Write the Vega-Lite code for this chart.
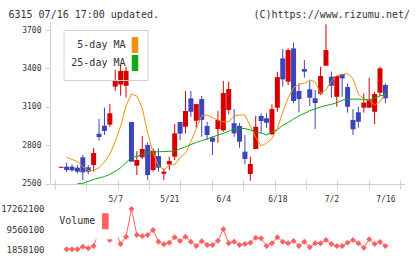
{
  "$schema": "https://vega.github.io/schema/vega-lite/v6.json",
  "width": 355,
  "height": 232,
  "autosize": {"type": "none"},
  "padding": {"left": 50, "top": 21, "right": 15, "bottom": 6},
  "background": "white",
  "config": {
    "view": {"stroke": null},
    "font": "DejaVu Sans Mono",
    "axis": {"domainColor": "#d0d0d0", "tickColor": "#d0d0d0", "labelColor": "#333333", "labelFont": "DejaVu Sans Mono", "grid": false}
  },
  "data": {"values": [
    {"i": 0, "date": "4/18", "o": 2624, "h": 2632, "l": 2624, "c": 2632, "m5": null, "m25": null, "v": null},
    {"i": 1, "date": "4/21", "o": 2633, "h": 2664, "l": 2591, "c": 2607, "m5": 2706, "m25": null, "v": 1858100},
    {"i": 2, "date": "4/22", "o": 2633, "h": 2651, "l": 2594, "c": 2604, "m5": 2690, "m25": null, "v": 1900000},
    {"i": 3, "date": "4/23", "o": 2625, "h": 2646, "l": 2581, "c": 2594, "m5": 2672, "m25": 2500, "v": 1870000},
    {"i": 4, "date": "4/24", "o": 2706, "h": 2724, "l": 2529, "c": 2589, "m5": 2633, "m25": 2503, "v": 2850000},
    {"i": 5, "date": "4/25", "o": 2628, "h": 2646, "l": 2576, "c": 2594, "m5": 2604, "m25": 2518, "v": 2240000},
    {"i": 6, "date": "4/28", "o": 2646, "h": 2779, "l": 2594, "c": 2740, "m5": 2604, "m25": 2533, "v": 3120000},
    {"i": 7, "date": "4/30", "o": 2891, "h": 3005, "l": 2836, "c": 2865, "m5": 2625, "m25": 2545, "v": 8900000},
    {"i": 8, "date": "5/1", "o": 2953, "h": 3094, "l": 2880, "c": 2912, "m5": 2670, "m25": 2555, "v": 6900000},
    {"i": 9, "date": "5/2", "o": 2961, "h": 3122, "l": 2943, "c": 3050, "m5": 2730, "m25": 2573, "v": 5410000},
    {"i": 10, "date": "5/7", "o": 3258, "h": 3390, "l": 3226, "c": 3310, "m5": 2830, "m25": 2597, "v": 9200000},
    {"i": 11, "date": "5/8", "o": 3275, "h": 3430, "l": 3188, "c": 3381, "m5": 2950, "m25": 2625, "v": 3880000},
    {"i": 12, "date": "5/9", "o": 3265, "h": 3414, "l": 3174, "c": 3381, "m5": 3110, "m25": 2665, "v": 6680000},
    {"i": 13, "date": "5/12", "o": 2982, "h": 2982, "l": 2672, "c": 2672, "m5": 3200, "m25": 2705, "v": 17262100},
    {"i": 14, "date": "5/13", "o": 2641, "h": 2755, "l": 2568, "c": 2685, "m5": 3185, "m25": 2714, "v": 7320000},
    {"i": 15, "date": "5/14", "o": 2706, "h": 2872, "l": 2693, "c": 2771, "m5": 3089, "m25": 2727, "v": 6940000},
    {"i": 16, "date": "5/15", "o": 2802, "h": 2823, "l": 2529, "c": 2568, "m5": 2900, "m25": 2741, "v": 7320000},
    {"i": 17, "date": "5/16", "o": 2607, "h": 2776, "l": 2594, "c": 2758, "m5": 2740, "m25": 2747, "v": 9230000},
    {"i": 18, "date": "5/19", "o": 2716, "h": 2776, "l": 2594, "c": 2625, "m5": 2640, "m25": 2750, "v": 4770000},
    {"i": 19, "date": "5/20", "o": 2578, "h": 2620, "l": 2529, "c": 2594, "m5": 2607, "m25": 2751, "v": 3770000},
    {"i": 20, "date": "5/21", "o": 2651, "h": 2711, "l": 2607, "c": 2677, "m5": 2645, "m25": 2753, "v": 4400000},
    {"i": 21, "date": "5/22", "o": 2711, "h": 2966, "l": 2685, "c": 2893, "m5": 2648, "m25": 2757, "v": 6450000},
    {"i": 22, "date": "5/23", "o": 2982, "h": 2982, "l": 2841, "c": 2891, "m5": 2705, "m25": 2773, "v": 5030000},
    {"i": 23, "date": "5/26", "o": 2945, "h": 3224, "l": 2893, "c": 3068, "m5": 2737, "m25": 2788, "v": 6680000},
    {"i": 24, "date": "5/27", "o": 3167, "h": 3224, "l": 3023, "c": 3062, "m5": 2830, "m25": 2806, "v": 4770000},
    {"i": 25, "date": "5/28", "o": 2992, "h": 3122, "l": 2937, "c": 3122, "m5": 2930, "m25": 2822, "v": 3120000},
    {"i": 26, "date": "5/29", "o": 3161, "h": 3185, "l": 2867, "c": 2998, "m5": 3031, "m25": 2836, "v": 4900000},
    {"i": 27, "date": "5/30", "o": 2951, "h": 2984, "l": 2841, "c": 2880, "m5": 3037, "m25": 2850, "v": 3500000},
    {"i": 28, "date": "6/2", "o": 2859, "h": 2872, "l": 2724, "c": 2828, "m5": 3015, "m25": 2865, "v": 3500000},
    {"i": 29, "date": "6/3", "o": 2927, "h": 3068, "l": 2820, "c": 2998, "m5": 2998, "m25": 2879, "v": 5150000},
    {"i": 30, "date": "6/4", "o": 2917, "h": 3302, "l": 2906, "c": 3208, "m5": 2984, "m25": 2893, "v": 9500000},
    {"i": 31, "date": "6/5", "o": 3076, "h": 3297, "l": 3042, "c": 3240, "m5": 2984, "m25": 2909, "v": 4150000},
    {"i": 32, "date": "6/6", "o": 2973, "h": 3083, "l": 2867, "c": 2893, "m5": 3030, "m25": 2932, "v": 4770000},
    {"i": 33, "date": "6/9", "o": 2951, "h": 2972, "l": 2781, "c": 2828, "m5": 3037, "m25": 2933, "v": 3500000},
    {"i": 34, "date": "6/10", "o": 2750, "h": 2880, "l": 2651, "c": 2693, "m5": 3037, "m25": 2930, "v": 3880000},
    {"i": 35, "date": "6/11", "o": 2576, "h": 2711, "l": 2523, "c": 2654, "m5": 2950, "m25": 2920, "v": 4380000},
    {"i": 36, "date": "6/12", "o": 2771, "h": 3031, "l": 2771, "c": 2945, "m5": 2860, "m25": 2904, "v": 6300000},
    {"i": 37, "date": "6/13", "o": 3029, "h": 3050, "l": 2894, "c": 2990, "m5": 2797, "m25": 2895, "v": 6060000},
    {"i": 38, "date": "6/16", "o": 3011, "h": 3050, "l": 2937, "c": 2976, "m5": 2815, "m25": 2881, "v": 3120000},
    {"i": 39, "date": "6/17", "o": 2886, "h": 3120, "l": 2880, "c": 3083, "m5": 2854, "m25": 2905, "v": 4150000},
    {"i": 40, "date": "6/18", "o": 3094, "h": 3375, "l": 3062, "c": 3333, "m5": 2930, "m25": 2922, "v": 6450000},
    {"i": 41, "date": "6/19", "o": 3479, "h": 3552, "l": 3258, "c": 3315, "m5": 3060, "m25": 2956, "v": 4770000},
    {"i": 42, "date": "6/20", "o": 3297, "h": 3557, "l": 3271, "c": 3544, "m5": 3170, "m25": 2978, "v": 4150000},
    {"i": 43, "date": "6/23", "o": 3557, "h": 3601, "l": 3128, "c": 3146, "m5": 3250, "m25": 3005, "v": 5030000},
    {"i": 44, "date": "6/24", "o": 3224, "h": 3284, "l": 3058, "c": 3161, "m5": 3276, "m25": 3030, "v": 3120000},
    {"i": 45, "date": "6/25", "o": 3396, "h": 3466, "l": 3328, "c": 3375, "m5": 3284, "m25": 3049, "v": 4770000},
    {"i": 46, "date": "6/26", "o": 3237, "h": 3302, "l": 3107, "c": 3172, "m5": 3310, "m25": 3070, "v": 2620000},
    {"i": 47, "date": "6/27", "o": 3167, "h": 3232, "l": 2927, "c": 3130, "m5": 3295, "m25": 3085, "v": 4150000},
    {"i": 48, "date": "6/30", "o": 3203, "h": 3414, "l": 3193, "c": 3341, "m5": 3205, "m25": 3099, "v": 4150000},
    {"i": 49, "date": "7/1", "o": 3422, "h": 3745, "l": 3422, "c": 3544, "m5": 3235, "m25": 3111, "v": 5410000},
    {"i": 50, "date": "7/2", "o": 3336, "h": 3375, "l": 3172, "c": 3265, "m5": 3300, "m25": 3120, "v": 3880000},
    {"i": 51, "date": "7/3", "o": 3179, "h": 3341, "l": 3101, "c": 3341, "m5": 3345, "m25": 3132, "v": 3120000},
    {"i": 52, "date": "7/4", "o": 3357, "h": 3357, "l": 3179, "c": 3323, "m5": 3354, "m25": 3152, "v": 3120000},
    {"i": 53, "date": "7/7", "o": 3255, "h": 3284, "l": 3055, "c": 3101, "m5": 3362, "m25": 3161, "v": 4380000},
    {"i": 54, "date": "7/8", "o": 2998, "h": 3083, "l": 2880, "c": 2925, "m5": 3320, "m25": 3161, "v": 5410000},
    {"i": 55, "date": "7/9", "o": 3058, "h": 3101, "l": 2937, "c": 2984, "m5": 3200, "m25": 3161, "v": 4150000},
    {"i": 56, "date": "7/10", "o": 3094, "h": 3206, "l": 3055, "c": 3133, "m5": 3163, "m25": 3158, "v": 2470000},
    {"i": 57, "date": "7/11", "o": 3094, "h": 3328, "l": 3094, "c": 3154, "m5": 3150, "m25": 3155, "v": 5680000},
    {"i": 58, "date": "7/14", "o": 3062, "h": 3219, "l": 2966, "c": 3200, "m5": 3115, "m25": 3170, "v": 3880000},
    {"i": 59, "date": "7/15", "o": 3211, "h": 3414, "l": 3185, "c": 3401, "m5": 3140, "m25": 3186, "v": 4650000},
    {"i": 60, "date": "7/16", "o": 3271, "h": 3284, "l": 3128, "c": 3167, "m5": 3206, "m25": 3195, "v": 3120000}
  ]},
  "layer": [
    {
      "layer": [
        {
          "mark": {"type": "rule", "strokeWidth": 1},
          "encoding": {
            "x": {"field": "i", "type": "quantitative", "scale": {"domain": [-1.15, 62.7], "nice": false, "zero": false},
                  "axis": {"orient": "bottom", "offset": -69, "values": [10, 20, 30, 40, 50, 60],
                           "labelExpr": "['5/7','5/21','6/4','6/18','7/2','7/16'][datum.value/10-1]",
                           "ticks": false, "labelPadding": 11, "labelFontSize": 8, "domain": true, "title": null, "labelFlush": false}},
            "y": {"field": "l", "type": "quantitative", "scale": {"domain": [2500, 3771], "range": [162.7, 0], "nice": false, "zero": false},
                  "axis": {"orient": "left", "values": [2500, 2800, 3100, 3400, 3700], "tickSize": 5, "labelPadding": 4, "labelFontSize": 8, "title": null, "format": "d"}},
            "y2": {"field": "h"},
            "color": {"condition": {"test": "datum.c >= datum.o", "value": "#d60000"}, "value": "#3c45bd"}
          }
        },
        {
          "mark": {"type": "bar", "width": 5},
          "encoding": {
            "x": {"field": "i", "type": "quantitative",
                  "axis": {"orient": "bottom", "offset": -69, "values": [-1.15, 4.655, 10.459, 16.264, 22.068, 27.873, 33.677, 39.482, 45.286, 51.091, 56.895, 62.69],
                           "labels": false, "domain": false, "ticks": true, "tickSize": 5, "title": null}},
            "y": {"field": "o", "type": "quantitative"},
            "y2": {"field": "c"},
            "color": {"condition": {"test": "datum.c >= datum.o", "value": "#d60000"}, "value": "#3c45bd"}
          }
        },
        {
          "mark": {"type": "line", "strokeWidth": 1},
          "encoding": {
            "x": {"field": "i", "type": "quantitative",
                  "axis": {"orient": "top", "labels": false, "ticks": false, "domain": false,
                           "title": "6315 07/16 17:00 updated.", "titleAnchor": "start", "titleAlign": "left", "titleX": -42, "titleY": -4,
                           "titleBaseline": "alphabetic", "titleFont": "DejaVu Sans Mono", "titleFontSize": 10, "titleFontWeight": "normal", "titleColor": "#333333"}},
            "y": {"field": "m5", "type": "quantitative"},
            "color": {"datum": "5-day MA", "type": "nominal",
                      "scale": {"domain": ["5-day MA", "25-day MA"], "range": ["#f0900a", "#14a514"]},
                      "legend": {"orient": "none", "legendX": 13.5, "legendY": 9, "title": null, "zindex": 0,
                                 "fillColor": "transparent", "strokeColor": "#d0d0d0", "padding": 7,
                                 "symbolType": "M-0.375,-1L0.375,-1L0.375,1L-0.375,1Z", "symbolSize": 225,
                                 "symbolStrokeWidth": 1, "symbolOpacity": 1, "symbolOffset": 56.5,
                                 "labelFont": "DejaVu Sans Mono", "labelFontSize": 10, "labelColor": "#333333",
                                 "labelAlign": "right", "labelOffset": -17.5, "rowPadding": -3,
                                 "encode": {"symbols": {"update": {"fill": {"signal": "datum.value === '5-day MA' ? '#f0900a' : '#14a514'"}, "stroke": {"value": "#444444"}, "strokeWidth": {"value": 1}}}}}}
          }
        },
        {
          "mark": {"type": "line", "strokeWidth": 1},
          "encoding": {
            "x": {"field": "i", "type": "quantitative",
                  "axis": {"orient": "top", "labels": false, "ticks": false, "domain": false,
                           "title": "(C)https://www.rizumu.net/", "titleAnchor": "end", "titleAlign": "right", "titleX": 359.5, "titleY": -4,
                           "titleBaseline": "alphabetic", "titleFont": "DejaVu Sans Mono", "titleFontSize": 10, "titleFontWeight": "normal", "titleColor": "#333333"}},
            "y": {"field": "m25", "type": "quantitative"},
            "color": {"datum": "25-day MA", "type": "nominal"}
          }
        }
      ],
      "resolve": {"axis": {"x": "independent"}}
    },
    {
      "layer": [
        {
          "mark": {"type": "line", "strokeWidth": 1},
          "encoding": {
            "x": {"field": "i", "type": "quantitative",
                  "axis": {"orient": "bottom", "offset": -69, "values": [-1.15, 4.655, 10.459, 16.264, 22.068, 27.873, 33.677, 39.482, 45.286, 51.091, 56.895, 62.69],
                           "labels": false, "domain": false, "ticks": true, "tickSize": -4, "title": null}},
            "y": {"field": "v", "type": "quantitative", "scale": {"domain": [444000, 18790000], "range": [232, 184], "nice": false, "zero": false},
                  "axis": {"orient": "left", "values": [1858100, 9560100, 17262100], "format": "d", "ticks": false, "domain": false, "labelPadding": 6, "labelFontSize": 9, "title": null}},
            "color": {"datum": "Volume", "type": "nominal",
                      "scale": {"domain": ["Volume"], "range": ["#ff6060"]},
                      "legend": {"orient": "none", "legendX": 1.3, "legendY": 185.3, "title": null, "zindex": 1,
                                 "fillColor": "white", "strokeColor": "white", "padding": 7,
                                 "symbolType": "M-0.375,-1L0.375,-1L0.375,1L-0.375,1Z", "symbolSize": 225,
                                 "symbolStrokeWidth": 1, "symbolOpacity": 1, "symbolOffset": 39,
                                 "labelFont": "DejaVu Sans Mono", "labelFontSize": 10, "labelColor": "#333333",
                                 "labelAlign": "right", "labelOffset": -18,
                                 "encode": {"symbols": {"update": {"fill": {"value": "#ff6060"}, "stroke": {"value": "#444444"}, "strokeWidth": {"value": 1}}}}}}
          }
        },
        {
          "mark": {"type": "point", "shape": "diamond", "filled": true, "size": 36, "opacity": 1},
          "encoding": {
            "x": {"field": "i", "type": "quantitative", "axis": null},
            "y": {"field": "v", "type": "quantitative"},
            "color": {"datum": "Volume", "type": "nominal"}
          }
        }
      ],
      "resolve": {"axis": {"x": "independent"}}
    }
  ],
  "resolve": {"scale": {"y": "independent", "color": "independent"}, "axis": {"x": "independent", "y": "independent"}, "legend": {"color": "independent"}}
}
